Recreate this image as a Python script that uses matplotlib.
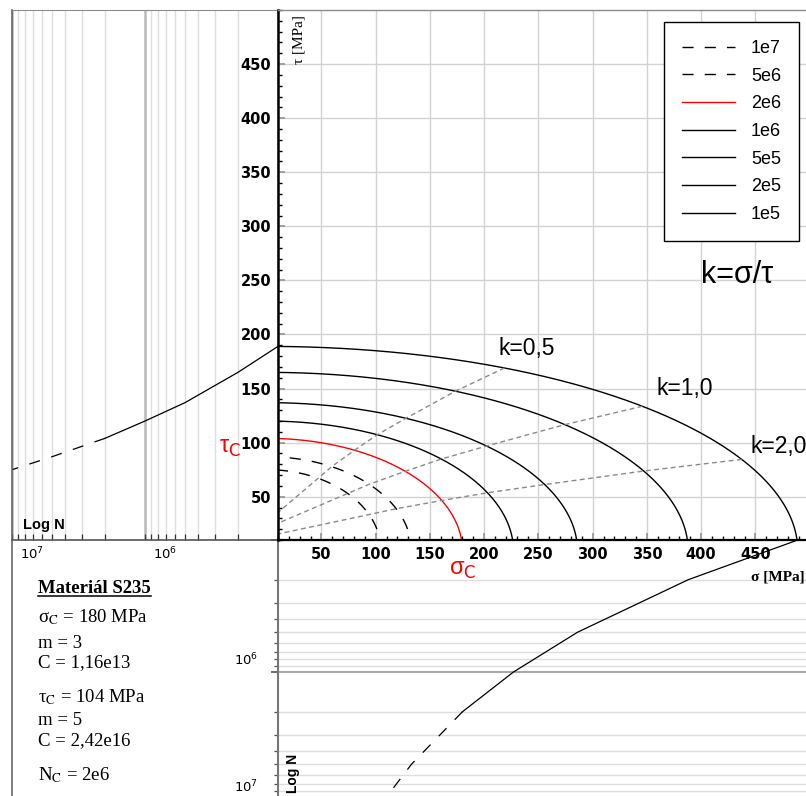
import numpy as np
import matplotlib
matplotlib.use('Agg')
import matplotlib.pyplot as plt
from matplotlib import transforms
from matplotlib.lines import Line2D
from matplotlib.ticker import MultipleLocator, NullFormatter, LogLocator

plt.rcParams['font.family'] = ['Liberation Sans', 'DejaVu Sans']
plt.rcParams['lines.scale_dashes'] = False

# pocty cyklu a amplitudy napeti pro jednotlive krivky
N_cykly = [1e5, 2e5, 5e5, 1e6, 2e6, 5e6, 1e7]
N_popisky = ['1e5', '2e5', '5e5', '1e6', '2e6', '5e6', '1e7']
sigma_N = [489, 388, 286, 227, 180, 133, 105]   # MPa
tau_N = [189, 165, 137, 120, 104, 87, 75]       # MPa

k_hodnoty = [0.5, 1.0, 2.0]
k_popisky = ['k=0,5', 'k=1,0', 'k=2,0']
k_pozice = [(213, 187), (359, 150), (445, 96)]  # kde stoji popisek (sigma, tau)

material = ['Materiál S235',
            'σ$_\\mathrm{C}$ = 180 MPa', 'm = 3', 'C = 1,16e13',
            'τ$_\\mathrm{C}$ = 104 MPa', 'm = 5', 'C = 2,42e16',
            'N$_\\mathrm{C}$ = 2e6']
radky_y = [593, 622, 648, 667, 702, 725, 745, 780]   # uckari radku, pixely od horniho okraje

W, H = 806, 796
def obdelnik(x0, y0, x1, y1):
    return [x0 / W, 1 - y1 / H, (x1 - x0) / W, (y1 - y0) / H]

fig = plt.figure(figsize=(W / 100, H / 100), dpi=100)
axL = fig.add_axes(obdelnik(12, 10, 278, 540))
axB = fig.add_axes(obdelnik(278, 540, 806, 804))
axT = fig.add_axes(obdelnik(12, 540, 278, 796))
ax = fig.add_axes(obdelnik(278, 10, 806, 540))
ax.set_zorder(5)

sig_lim = (10, 496.6)
tau_lim = (10, 500)

# ---------------- hlavni kvadrant sigma - tau ----------------
ax.set_xlim(*sig_lim)
ax.set_ylim(*tau_lim)
ax.set_xticks(range(50, 451, 50))
ax.set_yticks(range(50, 451, 50))
ax.xaxis.set_minor_locator(MultipleLocator(10))
ax.yaxis.set_minor_locator(MultipleLocator(10))
ax.grid(which='major', color='#d2d2d2', lw=1.0)
ax.set_axisbelow(True)
ax.tick_params(which='major', direction='in', length=5, width=1.3, color='#999999', pad=5)
ax.tick_params(which='minor', direction='in', length=3, width=1.0, color='black')
for lab in ax.get_xticklabels() + ax.get_yticklabels():
    lab.set_family('DejaVu Sans')
    lab.set_fontweight('bold')
    lab.set_fontsize(10.5)
ax.spines['left'].set_linewidth(1.8)
ax.spines['bottom'].set_linewidth(1.6)
ax.spines['top'].set_color('#8c8c8c')
ax.spines['top'].set_linewidth(1.0)
ax.spines['right'].set_visible(False)

t = np.linspace(0, np.pi / 2, 300)
styly = {}
for N, lab in zip(N_cykly, N_popisky):
    if N == 2e6:
        styly[lab] = dict(color='red', lw=1.0)
    elif N > 2e6:
        styly[lab] = dict(color='black', lw=1.0, dashes=(8, 8))
    else:
        styly[lab] = dict(color='black', lw=1.0)

handles = []
for sN, tN, lab in zip(sigma_N, tau_N, N_popisky):
    h, = ax.plot(sN * np.cos(t), tN * np.sin(t), label=lab, **styly[lab])
    handles.append(h)

# primky pomeru k (body na jednotlivych krivkach, posledni usek prodlouzen k osam)
for k, txt, (kx, ky) in zip(k_hodnoty, k_popisky, k_pozice):
    u = k / np.sqrt(1 + k ** 2)
    v = 1 / np.sqrt(1 + k ** 2)
    xs = [u * s for s in sigma_N]
    ys = [v * s for s in tau_N]
    xs.append(xs[-1] + 6 * (xs[-1] - xs[-2]))
    ys.append(ys[-1] + 6 * (ys[-1] - ys[-2]))
    ax.plot(xs, ys, color='#8a8a8a', lw=1.0, dashes=(3.5, 2.5))
    ax.text(kx, ky, txt, fontsize=16.5, ha='left', va='center')

leg = ax.legend(handles[::-1], N_popisky[::-1], loc='upper right',
                bbox_to_anchor=(1 - 7 / 528, 1 - 12 / 530), borderaxespad=0,
                fontsize=13, handlelength=2.9, handletextpad=0.9,
                labelspacing=0.59, borderpad=1.0, fancybox=False,
                edgecolor='black', framealpha=1)
leg.get_frame().set_linewidth(1.0)

ax.text((737 - 278) / 528, (540 - 275) / 530, 'k=σ/τ', transform=ax.transAxes,
        fontsize=22, ha='center', va='center')

tr_ty = transforms.blended_transform_factory(ax.transAxes, ax.transData)
tr_sx = transforms.blended_transform_factory(ax.transData, ax.transAxes)
ax.text(-0.09, 95, 'τ$_\\mathrm{C}$', transform=tr_ty, color='red', fontsize=17,
        ha='center', va='center', clip_on=False)
ax.text(180, -0.056, 'σ$_\\mathrm{C}$', transform=tr_sx, color='red', fontsize=17,
        ha='center', va='center', clip_on=False)
ax.text(0.998, -0.07, 'σ [MPa]', transform=ax.transAxes, fontsize=11,
        family='Liberation Serif', fontweight='bold', ha='right', va='center',
        clip_on=False)
ax.text(0.04, 0.99, 'τ [MPa]', transform=ax.transAxes, fontsize=11,
        family='Liberation Serif', rotation=90, ha='center', va='top')

# ---------------- levy panel: tau - log N ----------------
axL.set_xscale('log')
axL.set_xlim(1e7, 1e5)
axL.set_ylim(*tau_lim)
axL.xaxis.set_major_locator(LogLocator(base=10))
axL.xaxis.set_minor_locator(LogLocator(base=10, subs=np.arange(2, 10)))
axL.xaxis.set_major_formatter(NullFormatter())
axL.xaxis.set_minor_formatter(NullFormatter())
axL.set_yticks([])
axL.grid(which='minor', axis='x', color='#dedede', lw=1.0)
axL.grid(which='major', axis='x', color='#b9b9b9', lw=1.8)
axL.tick_params(axis='x', which='both', direction='in', length=4, width=0.9, color='#333333')
axL.spines['right'].set_visible(False)
axL.spines['left'].set_color('#666666')
axL.spines['left'].set_linewidth(1.2)
axL.spines['top'].set_color('#8c8c8c')
axL.spines['bottom'].set_color('#555555')
axL.spines['bottom'].set_linewidth(1.2)
axL.plot(N_cykly[:5], tau_N[:5], color='black', lw=0.9)
axL.plot(N_cykly[4:], tau_N[4:], color='black', lw=0.9, dashes=(8, 8.5))
axL.text(0.041, 0.028, 'Log N', transform=axL.transAxes, fontsize=10.5,
         fontweight='bold', ha='left', va='center')
trL = transforms.offset_copy(transforms.blended_transform_factory(axL.transData, axL.transAxes),
                             fig=fig, x=8, y=-6, units='dots')
for N in [1e7, 1e6]:
    axL.text(N, 0, '$10^{%d}$' % round(np.log10(N)), transform=trL, fontsize=9.5,
             ha='left', va='top')

# ---------------- dolni panel: sigma - log N ----------------
axB.set_yscale('log')
axB.set_xlim(*sig_lim)
axB.set_ylim(1e7, 1e5)
axB.yaxis.set_major_locator(LogLocator(base=10))
axB.yaxis.set_minor_locator(LogLocator(base=10, subs=np.arange(2, 10)))
axB.yaxis.set_major_formatter(NullFormatter())
axB.yaxis.set_minor_formatter(NullFormatter())
axB.set_xticks([])
axB.grid(which='minor', axis='y', color='#dedede', lw=1.0)
axB.grid(which='major', axis='y', color='#a8a8a8', lw=1.5)
axB.tick_params(axis='y', which='minor', direction='out', length=3, width=0.9, color='#555555')
axB.tick_params(axis='y', which='major', direction='out', length=5, width=1.2, color='#555555')
for s in ['top', 'right', 'bottom']:
    axB.spines[s].set_visible(False)
axB.spines['left'].set_color('#777777')
axB.spines['left'].set_linewidth(1.5)
axB.plot(sigma_N[:5], N_cykly[:5], color='black', lw=0.9)
axB.plot(sigma_N[4:], N_cykly[4:], color='black', lw=0.9, dashes=(8, 8.5))
axB.text(0.028, (804 - 793) / 264, 'Log N', transform=axB.transAxes, fontsize=10,
         fontweight='bold', rotation=90, ha='center', va='bottom')
for N, dy in [(1e6, 4), (1e7, 9)]:
    trB = transforms.offset_copy(transforms.blended_transform_factory(axB.transAxes, axB.transData),
                                 fig=fig, x=0, y=dy, units='dots')
    axB.text(-0.038, N, '$10^{%d}$' % round(np.log10(N)), transform=trB, fontsize=9.5,
             ha='right', va='bottom', clip_on=False)

# ---------------- textove pole ----------------
axT.set_xticks([])
axT.set_yticks([])
for s in ['top', 'right', 'bottom']:
    axT.spines[s].set_visible(False)
axT.spines['left'].set_color('#666666')
axT.spines['left'].set_linewidth(1.2)
axT.patch.set_alpha(0)
texty = []
for i, (txt, y) in enumerate(zip(material, radky_y)):
    tt = axT.text((38 - 12) / 266, (796 - y) / 256, txt, transform=axT.transAxes,
                  fontsize=13.5, family='Liberation Serif', math_fontfamily='stix',
                  fontweight='bold' if i == 0 else 'normal', ha='left', va='baseline')
    texty.append(tt)

fig.canvas.draw()
bb = texty[0].get_window_extent()
fig.add_artist(Line2D([bb.x0, bb.x1], [bb.y0 + 1, bb.y0 + 1], color='black', lw=1.1,
                      transform=transforms.IdentityTransform()))

fig.savefig('out.png', dpi=100)
